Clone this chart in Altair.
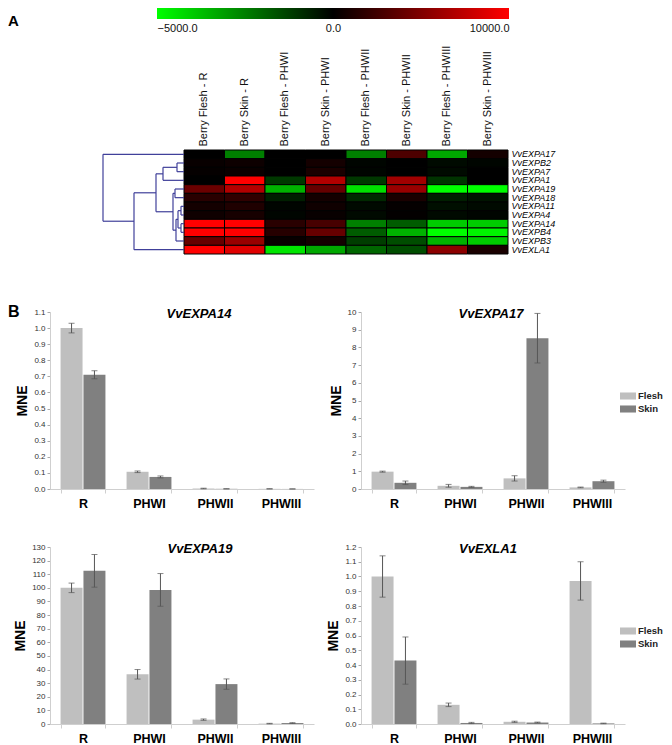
import altair as alt
import pandas as pd

FONT = "Liberation Sans"

# ---------------- Panel A : heat map ----------------
samples = ["Berry Flesh - R", "Berry Skin - R", "Berry Flesh - PHWI", "Berry Skin - PHWI",
           "Berry Flesh - PHWII", "Berry Skin - PHWII", "Berry Flesh - PHWIII", "Berry Skin - PHWIII"]
genes = ["VvEXPA17", "VvEXPB2", "VvEXPA7", "VvEXPA1", "VvEXPA19", "VvEXPA18",
         "VvEXPA11", "VvEXPA4", "VvEXPA14", "VvEXPB4", "VvEXPB3", "VvEXLA1"]

h_VvEXPA17 = [0, -2500, 0, 0, -2500, 3000, -3300, 800]
h_VvEXPB2 = [300, 500, 0, 800, -100, 0, -200, -100]
h_VvEXPA7 = [200, 400, 0, 1000, -100, 0, -200, 0]
h_VvEXPA1 = [0, 10000, -1100, 7000, -1100, 6300, -1000, 0]
h_VvEXPA19 = [4200, 7000, -3500, 4000, -4400, 6000, -5000, -5000]
h_VvEXPA18 = [1600, 1900, -600, 800, -800, 1000, -600, -400]
h_VvEXPA11 = [800, 1200, -100, 600, -200, 200, -300, -200]
h_VvEXPA4 = [600, 900, -100, 300, -200, 100, -200, -100]
h_VvEXPA14 = [10000, 10000, 1600, 2800, -2500, -1800, -4000, -4000]
h_VvEXPB4 = [10000, 10000, 1500, 4000, -1800, -3500, -5000, -4800]
h_VvEXPB3 = [4000, 6000, 300, 800, -1200, -1500, -3500, -4000]
h_VvEXLA1 = [10000, 8800, -4500, -3300, -2000, -1500, 5500, 1000]
heat_lists = [h_VvEXPA17, h_VvEXPB2, h_VvEXPA7, h_VvEXPA1, h_VvEXPA19, h_VvEXPA18,
              h_VvEXPA11, h_VvEXPA4, h_VvEXPA14, h_VvEXPB4, h_VvEXPB3, h_VvEXLA1]

scale_ticks = [-5000, 0, 10000]

# dendrogram merges (leaf indices 0..11, new nodes numbered from 12), heights in px-distance
merge_a = [1, 12, 4, 6, 8, 15, 17, 14, 13, 20, 0]
merge_b = [2, 3, 5, 7, 9, 16, 10, 18, 19, 11, 21]
merge_h = [7, 21, 9, 3, 3, 6, 8, 11, 28, 50, 81]

# ---------------- Panel B : bar charts ----------------
stages = ["R", "PHWI", "PHWII", "PHWIII"]
tissues = ["Flesh", "Skin"]

a14_flesh = [1.0, 0.107, 0.003, 0.001]
a14_flesh_err = [0.03, 0.005, 0.002, 0.0005]
a14_skin = [0.71, 0.075, 0.001, 0.0003]
a14_skin_err = [0.025, 0.006, 0.0005, 0.0002]

a17_flesh = [0.98, 0.18, 0.6, 0.09]
a17_flesh_err = [0.03, 0.08, 0.15, 0.02]
a17_skin = [0.35, 0.12, 8.52, 0.44]
a17_skin_err = [0.1, 0.03, 1.4, 0.06]

a19_flesh = [100, 36.5, 3.2, 0.3]
a19_flesh_err = [3.5, 3.5, 0.5, 0.2]
a19_skin = [112.5, 98.5, 29.3, 0.7]
a19_skin_err = [12, 12, 3.8, 0.3]

la1_flesh = [1.0, 0.13, 0.015, 0.97]
la1_flesh_err = [0.14, 0.012, 0.004, 0.13]
la1_skin = [0.43, 0.007, 0.01, 0.004]
la1_skin_err = [0.16, 0.004, 0.003, 0.002]

# ---------------- layout constants (pixels, relative to the first grid cell) ----------------
PW, PH = 264, 177          # bar panel plot size
AH = 104                   # height of the heat-map cell
HEAT_X = [134, 458]        # heat map horizontal extent
HEAT_Y = [0, 104]          # heat map vertical extent
DEN_X = [134, 53]          # dendrogram: distance 0 .. max
CB_X = [107, 283, 459]     # colour bar for -5000, 0, 10000

# colour bar (drawn above the heat map)
cb_df = pd.DataFrame({"lo": [scale_ticks[0]], "hi": [scale_ticks[-1]]})
grad = alt.LinearGradient(gradient="linear", x1=0, x2=1, y1=0, y2=0,
                          stops=[alt.GradientStop(color="#00ff00", offset=0),
                                 alt.GradientStop(color="#000000", offset=0.5),
                                 alt.GradientStop(color="#ff0000", offset=1)])
colorbar = alt.Chart(cb_df).mark_rect(fill=grad).encode(
    x=alt.X("lo:Q", scale=alt.Scale(domain=scale_ticks, range=CB_X, nice=False, zero=False),
            axis=alt.Axis(orient="bottom", offset=-131 - AH, values=scale_ticks, format=".1f",
                          labelFlush=True, ticks=False, domain=False, labelFontSize=11, labelPadding=3,
                          labelColor="#111", title=None, grid=False)),
    x2="hi:Q",
    y=alt.value(-142), y2=alt.value(-131),
)

# dendrogram segments
pos = {i: float(i) for i in range(len(genes))}
hgt = {i: 0.0 for i in range(len(genes))}
segs = []
for k, (a, b, h) in enumerate(zip(merge_a, merge_b, merge_h)):
    node = len(genes) + k
    segs.append({"x1": h, "x2": h, "y1": pos[a], "y2": pos[b]})
    segs.append({"x1": hgt[a], "x2": h, "y1": pos[a], "y2": pos[a]})
    segs.append({"x1": hgt[b], "x2": h, "y1": pos[b], "y2": pos[b]})
    pos[node] = (pos[a] + pos[b]) / 2
    hgt[node] = h
seg_df = pd.DataFrame(segs)
dendro = alt.Chart(seg_df).mark_rule(color="#40409a", strokeWidth=1.2).encode(
    x=alt.X("x1:Q", scale=alt.Scale(domain=[0, max(merge_h)], range=DEN_X, nice=False, zero=False),
            axis=None),
    x2="x2:Q",
    y=alt.Y("y1:Q", scale=alt.Scale(domain=[-0.5, len(genes) - 0.5], range=HEAT_Y, nice=False, zero=False),
            axis=None),
    y2="y2:Q",
)
label_a = alt.Chart(pd.DataFrame({"t": ["A"]})).mark_text(
    fontSize=15, fontWeight="bold", align="left", baseline="top", font=FONT, color="#000").encode(
    text="t:N", x=alt.value(-42), y=alt.value(-136))

# heatmap
rows = []
for g, vals in zip(genes, heat_lists):
    for s, v in zip(samples, vals):
        rows.append({"sample": s, "gene": g, "value": v})
heat_df = pd.DataFrame(rows)
heat = alt.Chart(heat_df).mark_rect(stroke="#000", strokeWidth=1).encode(
    x=alt.X("sample:N", sort=samples, scale=alt.Scale(range=HEAT_X, paddingInner=0, paddingOuter=0),
            axis=alt.Axis(orient="top", labelAngle=-90, title=None, ticks=False, domain=False,
                          labelFontSize=11, labelPadding=4, labelLimit=300, labelColor="#111")),
    y=alt.Y("gene:N", sort=genes, scale=alt.Scale(range=HEAT_Y, paddingInner=0, paddingOuter=0),
            axis=alt.Axis(orient="right", offset=HEAT_X[1] - PW, title=None, ticks=False, domain=False,
                          labelFontSize=9, labelFontStyle="italic", labelPadding=3, labelColor="#000",
                          labelOverlap=False)),
    color=alt.Color("value:Q", scale=alt.Scale(domain=scale_ticks, range=["#00ff00", "#000000", "#ff0000"],
                                               interpolate="rgb", clamp=True), legend=None),
)

sectionA = alt.layer(heat, colorbar, dendro, label_a).resolve_scale(
    x="independent", y="independent").properties(width=PW, height=AH)

filler = alt.Chart(pd.DataFrame({"v": [0]})).mark_point(opacity=0).encode(
    x=alt.value(0), y=alt.value(0)).properties(width=PW, height=AH)


def panel(gene, fl, fl_e, sk, sk_e, ymax, step, fmt, legend, title_x, extra=None):
    recs = []
    for st, v, e in zip(stages, fl, fl_e):
        recs.append({"stage": st, "tissue": "Flesh", "value": v, "lo": max(v - e, 0), "hi": v + e})
    for st, v, e in zip(stages, sk, sk_e):
        recs.append({"stage": st, "tissue": "Skin", "value": v, "lo": max(v - e, 0), "hi": v + e})
    df = pd.DataFrame(recs)
    n = int(round(ymax / step))
    ticks = [round(i * step, 3) for i in range(n + 1)]
    x = alt.X("stage:N", sort=stages, scale=alt.Scale(paddingInner=0.32, paddingOuter=0.16),
              axis=alt.Axis(title=None, labelAngle=0, labelFontSize=12.5, labelFontWeight="bold",
                            labelColor="#000", labelPadding=4, domainColor="#cfcfcf", tickColor="#cfcfcf",
                            tickBand="extent", tickSize=4))
    xo = alt.XOffset("tissue:N", sort=tissues, scale=alt.Scale(paddingInner=0.04))
    yscale = alt.Scale(domain=[0, ymax], nice=False, zero=True)
    yaxis = alt.Axis(values=ticks, tickCount=len(ticks), format=fmt, title="MNE", titleFontSize=14,
                     titleFontWeight="bold", titleColor="#000", titlePadding=4, labelFontSize=8,
                     labelColor="#333", labelOverlap=False, tickColor="#aaa", tickSize=3,
                     domainColor="#cfcfcf", grid=False)
    if legend:
        leg = alt.Legend(orient="none", legendX=259, legendY=76, title=None,
                         symbolType="M-1,-0.44H1V0.44H-1Z", symbolSize=256, symbolStrokeWidth=0,
                         labelFontSize=9.5, labelFontWeight="bold", labelColor="#222", rowPadding=-4,
                         labelOffset=2, labelLimit=40)
    else:
        leg = None
    base = alt.Chart(df)
    bars = base.mark_bar().encode(
        x=x, xOffset=xo, y=alt.Y("value:Q", scale=yscale, axis=yaxis),
        color=alt.Color("tissue:N", sort=tissues, scale=alt.Scale(domain=tissues, range=["#bfbfbf", "#808080"]),
                        legend=leg))
    err = base.mark_rule(color="#555", strokeWidth=1).encode(
        x=x, xOffset=xo, y=alt.Y("lo:Q", scale=yscale, axis=yaxis), y2="hi:Q")
    cap_lo = base.mark_tick(color="#555", thickness=1, size=6).encode(
        x=x, xOffset=xo, y=alt.Y("lo:Q", scale=yscale, axis=yaxis))
    cap_hi = base.mark_tick(color="#555", thickness=1, size=6).encode(
        x=x, xOffset=xo, y=alt.Y("hi:Q", scale=yscale, axis=yaxis))
    ttl = alt.Chart(pd.DataFrame({"t": [gene]})).mark_text(
        fontSize=13, fontStyle="italic", fontWeight="bold", font=FONT, color="#000",
        align="center", baseline="middle").encode(text="t:N", x=alt.value(title_x), y=alt.value(2))
    layers = [bars, err, cap_lo, cap_hi, ttl]
    if extra is not None:
        layers.append(extra)
    return alt.layer(*layers).properties(width=PW, height=PH)


label_b = alt.Chart(pd.DataFrame({"t": ["B"]})).mark_text(
    fontSize=16, fontWeight="bold", align="left", baseline="top", font=FONT, color="#000").encode(
    text="t:N", x=alt.value(-42), y=alt.value(-8))

p14 = panel("VvEXPA14", a14_flesh, a14_flesh_err, a14_skin, a14_skin_err, 1.1, 0.1, ".1f", False, 149, label_b)
p17 = panel("VvEXPA17", a17_flesh, a17_flesh_err, a17_skin, a17_skin_err, 10, 1, "d", True, 130)
p19 = panel("VvEXPA19", a19_flesh, a19_flesh_err, a19_skin, a19_skin_err, 130, 10, "d", False, 150)
pla1 = panel("VvEXLA1", la1_flesh, la1_flesh_err, la1_skin, la1_skin_err, 1.2, 0.1, ".1f", True, 127)

chart = alt.concat(sectionA, filler, p14, p17, p19, pla1, columns=2, spacing={"row": 58, "column": 47},
                   bounds="flush").resolve_scale(color="independent", xOffset="independent").resolve_legend(
    color="independent").properties(padding=0).configure(font=FONT).configure_view(
    stroke=None).configure_axis(labelFont=FONT, titleFont=FONT).configure_legend(labelFont=FONT)

chart.save("out.html", embed_options={"renderer": "svg", "actions": False})
